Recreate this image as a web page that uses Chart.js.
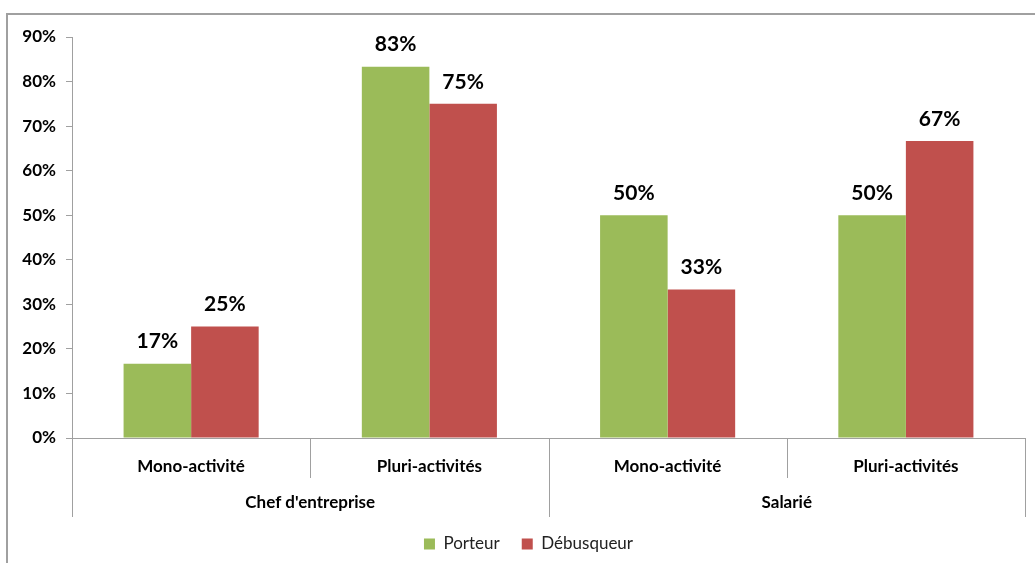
<!DOCTYPE html>
<html>
<head>
<meta charset="utf-8">
<script src="https://cdn.jsdelivr.net/npm/chart.js@4.4.1/dist/chart.umd.min.js"></script>
<style>
html,body{margin:0;padding:0;background:#fff;}
#wrap{width:1035px;height:563px;position:relative;}
</style>
</head>
<body>
<div id="wrap"><canvas id="c" width="1035" height="563"></canvas></div>
<script>
const subCategories = ["Mono-activité", "Pluri-activités", "Mono-activité", "Pluri-activités"];
const groups = ["Chef d'entreprise", "Salarié"];
const groupSizes = [2, 2];
const porteur = [16.67, 83.33, 50, 50];
const debusqueur = [25, 75, 33.33, 66.67];
const yTicks = [0, 10, 20, 30, 40, 50, 60, 70, 80, 90];

const FONT = "Lato, 'Open Sans', 'DejaVu Sans', sans-serif";

const framePlugin = {
  id: 'frame',
  beforeDraw(chart) {
    const ctx = chart.ctx;
    ctx.save();
    ctx.strokeStyle = '#a0a0a0';
    ctx.lineWidth = 2;
    ctx.strokeRect(7, 14, 1200, 800);
    ctx.restore();
  },
  afterLayout(chart) {
    const lg = chart.legend;
    if (lg) {
      lg.left += 16; lg.right += 16;
      const dy = 538 - (lg.top + lg.height / 2);
      lg.top += dy; lg.bottom += dy;
    }
  }
};

const groupPlugin = {
  id: 'groups',
  afterDraw(chart) {
    const ctx = chart.ctx;
    const x = chart.scales.x;
    const top = chart.chartArea.bottom;
    const half = (x.getPixelForValue(1) - x.getPixelForValue(0)) / 2;
    ctx.save();
    ctx.strokeStyle = '#a0a0a0';
    ctx.lineWidth = 1;
    let idx = 0;
    const bounds = [];
    for (let g = 0; g < groups.length; g++) {
      const start = x.getPixelForValue(idx) - half;
      const end = x.getPixelForValue(idx + groupSizes[g] - 1) + half;
      bounds.push([start, end]);
      for (let k = 1; k < groupSizes[g]; k++) {
        const px = Math.round(x.getPixelForValue(idx + k) - half) + 0.5;
        ctx.beginPath(); ctx.moveTo(px, top); ctx.lineTo(px, top + 40); ctx.stroke();
      }
      idx += groupSizes[g];
    }
    const edges = [bounds[0][0]].concat(bounds.map(b => b[1]));
    edges.forEach(e => {
      const px = Math.round(e) + 0.5;
      ctx.beginPath(); ctx.moveTo(px, top); ctx.lineTo(px, top + 79); ctx.stroke();
    });
    ctx.fillStyle = '#000';
    ctx.font = 'bold 17px ' + FONT;
    ctx.textAlign = 'center';
    ctx.textBaseline = 'middle';
    bounds.forEach((b, g) => {
      ctx.fillText(groups[g], (b[0] + b[1]) / 2, top + 65);
    });
    ctx.font = 'bold 21px ' + FONT;
    chart.data.datasets.forEach((ds, di) => {
      const meta = chart.getDatasetMeta(di);
      meta.data.forEach((bar, i) => {
        ctx.fillText(Math.round(ds.data[i]) + '%', bar.x, bar.y - 22);
      });
    });
    ctx.restore();
  }
};

new Chart(document.getElementById('c'), {
  type: 'bar',
  data: {
    labels: subCategories,
    datasets: [
      { label: 'Porteur', data: porteur, backgroundColor: '#9BBB59' },
      { label: 'Débusqueur', data: debusqueur, backgroundColor: '#C0504D' }
    ]
  },
  options: {
    responsive: false,
    animation: false,
    devicePixelRatio: 1,
    layout: { padding: { top: 37, right: 10, bottom: 0, left: 0 } },
    categoryPercentage: 0.567,
    barPercentage: 1.0,
    plugins: {
      legend: {
        position: 'bottom',
        labels: {
          boxWidth: 11, boxHeight: 11, padding: 22,
          color: '#222',
          font: { family: FONT, size: 17 }
        }
      },
      tooltip: { enabled: false }
    },
    scales: {
      x: {
        grid: { display: false, drawTicks: false },
        border: { display: true, color: '#a0a0a0', width: 1 },
        ticks: {
          color: '#000', padding: 18,
          font: { family: FONT, size: 17, weight: 'bold' }
        },
        afterFit(scale) { scale.height = 76; }
      },
      y: {
        min: 0, max: 90,
        afterBuildTicks(scale) { scale.ticks = yTicks.map(v => ({ value: v })); },
        grid: { drawOnChartArea: false, drawTicks: true, tickLength: 6, color: '#a0a0a0' },
        border: { display: true, color: '#a0a0a0', width: 1 },
        ticks: {
          color: '#000', padding: 10,
          font: { family: FONT, size: 17, weight: 'bold' },
          callback: v => v + '%'
        },
        afterFit(scale) { scale.width = 72; }
      }
    }
  },
  plugins: [framePlugin, groupPlugin]
});
</script>
</body>
</html>
